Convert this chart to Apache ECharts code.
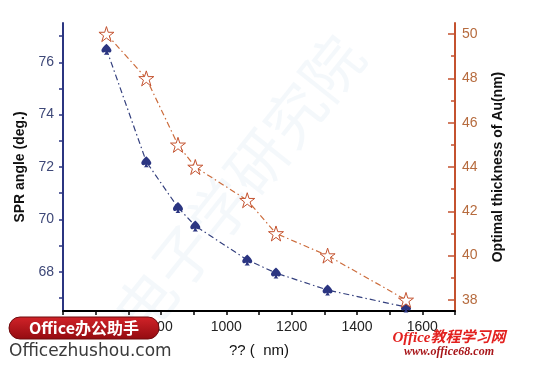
<!DOCTYPE html>
<html><head><meta charset="utf-8">
<script src="https://cdn.jsdelivr.net/npm/echarts@6/dist/echarts.min.js"></script>
<style>html,body{margin:0;padding:0;background:#fff}#c{width:536px;height:366px}</style>
</head><body><div id="c"></div>
<script>
var wavelengths = [633, 755, 852, 905, 1064, 1152, 1310, 1550];
var sprAngle = [76.5, 72.2, 70.45, 69.75, 68.45, 67.95, 67.3, 66.65];
var thickness = [50, 48, 45, 44, 42.5, 41, 40, 38];
var leftMajor = [68, 70, 72, 74, 76];
var leftTicks = [67, 68, 69, 70, 71, 72, 73, 74, 75, 76, 77];
var rightMajor = [38, 40, 42, 44, 46, 48, 50];
var rightMinor = [39, 41, 43, 45, 47, 49];

var starPath = 'path://M50,0 L61.8,35.3 L100,35.3 L69.1,57.1 L80.9,92.7 L50,70.6 L19.1,92.7 L30.9,57.1 L0,35.3 L38.2,35.3 Z';
var spadePath = 'path://M50,0 C50,0 0,40 0,62 C0,80 20,88 40,74 C38,88 32,96 22,100 L78,100 C68,96 62,88 60,74 C80,88 100,80 100,62 C100,40 50,0 50,0 Z';
var FONT = 'Liberation Sans, Arial, sans-serif';
var navy = '#2b3581';
var rust = '#c4522f';

var chart = echarts.init(document.getElementById('c'), null, {renderer: 'canvas'});
chart.setOption({
  animation: false,
  backgroundColor: '#fff',
  grid: {left: 63, right: 81, top: 23, bottom: 55, containLabel: false},
  xAxis: {
    type: 'value', min: 500, max: 1700, interval: 100,
    name: '?? (  nm)', nameLocation: 'middle', nameGap: 32,
    nameTextStyle: {fontFamily: FONT, fontSize: 15, color: '#111'},
    axisLine: {lineStyle: {color: '#000', width: 2}},
    axisTick: {inside: false, length: 4, lineStyle: {color: '#000', width: 1.5}},
    axisLabel: {margin: 9, fontFamily: FONT, fontSize: 14, color: '#222',
      formatter: function (v) { return v % 200 === 0 ? String(v) : ''; }},
    splitLine: {show: false}
  },
  yAxis: [{
    type: 'value', position: 'left', min: 66.5, max: 77.5,
    name: 'SPR angle (deg.)', nameLocation: 'middle', nameGap: 34, nameRotate: 90,
    nameTextStyle: {fontFamily: FONT, fontSize: 14, fontWeight: 'bold', color: '#111'},
    axisLine: {show: true, lineStyle: {color: navy, width: 2}},
    axisTick: {show: true, inside: false, length: 4, customValues: leftTicks, lineStyle: {color: navy, width: 1.5}},
    axisLabel: {margin: 9, customValues: leftMajor, fontFamily: FONT, fontSize: 14, color: '#3e4878'},
    splitLine: {show: false}
  }, {
    type: 'value', position: 'right', min: 37.5, max: 50.5,
    name: 'Optimal thickness of Au(nm)', nameLocation: 'middle', nameGap: 36, nameRotate: 90,
    nameTextStyle: {fontFamily: FONT, fontSize: 14, fontWeight: 'bold', color: '#111'},
    axisLine: {show: true, lineStyle: {color: rust, width: 2}},
    axisTick: {show: true, inside: true, length: 7, customValues: rightMajor, lineStyle: {color: rust, width: 1.5}},
    axisLabel: {margin: 7, customValues: rightMajor, fontFamily: FONT, fontSize: 14, color: '#b66b3e'},
    splitLine: {show: false}
  }, {
    type: 'value', position: 'right', min: 37.5, max: 50.5,
    axisLine: {show: false},
    axisTick: {show: true, inside: true, length: 4, customValues: rightMinor, lineStyle: {color: rust, width: 1.5}},
    axisLabel: {show: false},
    splitLine: {show: false}
  }],
  series: [{
    type: 'line', yAxisIndex: 0,
    data: wavelengths.map(function (w, i) { return [w, sprAngle[i]]; }),
    symbol: spadePath, symbolSize: [10, 11], z: 3,
    itemStyle: {color: navy, borderWidth: 0},
    lineStyle: {color: '#34407e', width: 1.2, type: [6, 3, 1.5, 3]}
  }, {
    type: 'line', yAxisIndex: 1,
    data: wavelengths.map(function (w, i) { return [w, thickness[i]]; }),
    symbol: starPath, symbolSize: 15, z: 4,
    itemStyle: {color: '#fff', borderColor: rust, borderWidth: 1},
    lineStyle: {color: '#cc6c3c', width: 1.2, type: [6, 3, 1.5, 3]}
  }],
  graphic: [
    {type: 'text', x: 150, y: 345, rotation: 0.9, z: 0, silent: true,
     style: {text: '电子学研究院', fontSize: 60, fontFamily: 'Noto Sans CJK SC', fill: 'rgba(205,225,238,0.22)', verticalAlign: 'bottom'}},
    {type: 'rect', shape: {x: 9, y: 317, width: 150, height: 22, r: 11}, z: 100,
     style: {fill: {type: 'linear', x: 0, y: 0, x2: 0, y2: 1, colorStops: [{offset: 0, color: '#d22329'}, {offset: 1, color: '#930b10'}]}, stroke: '#6e0a0d', lineWidth: 1}},
    {type: 'text', x: 84, y: 328, z: 101,
     style: {text: 'Office办公助手', fontSize: 16, fontWeight: 'bold', fontFamily: 'Noto Sans CJK SC', fill: '#fff', align: 'center', verticalAlign: 'middle'}},
    {type: 'text', x: 9, y: 352, z: 101,
     style: {text: 'Officezhushou.com', fontSize: 17, fontFamily: 'DejaVu Sans, sans-serif', fill: '#3a3a3a', verticalAlign: 'middle'}},
    {type: 'text', x: 449, y: 338, z: 101,
     style: {text: 'Office教程学习网', fontSize: 15, fontStyle: 'italic', fontWeight: 'bold', fontFamily: 'Liberation Serif, Noto Sans CJK SC, serif', fill: '#e3211f', align: 'center', verticalAlign: 'middle'}},
    {type: 'text', x: 449, y: 352, z: 101,
     style: {text: 'www.office68.com', fontSize: 12, fontStyle: 'italic', fontWeight: 'bold', fontFamily: 'Liberation Serif, serif', fill: '#a8161a', align: 'center', verticalAlign: 'middle'}}
  ]
});
</script></body></html>
